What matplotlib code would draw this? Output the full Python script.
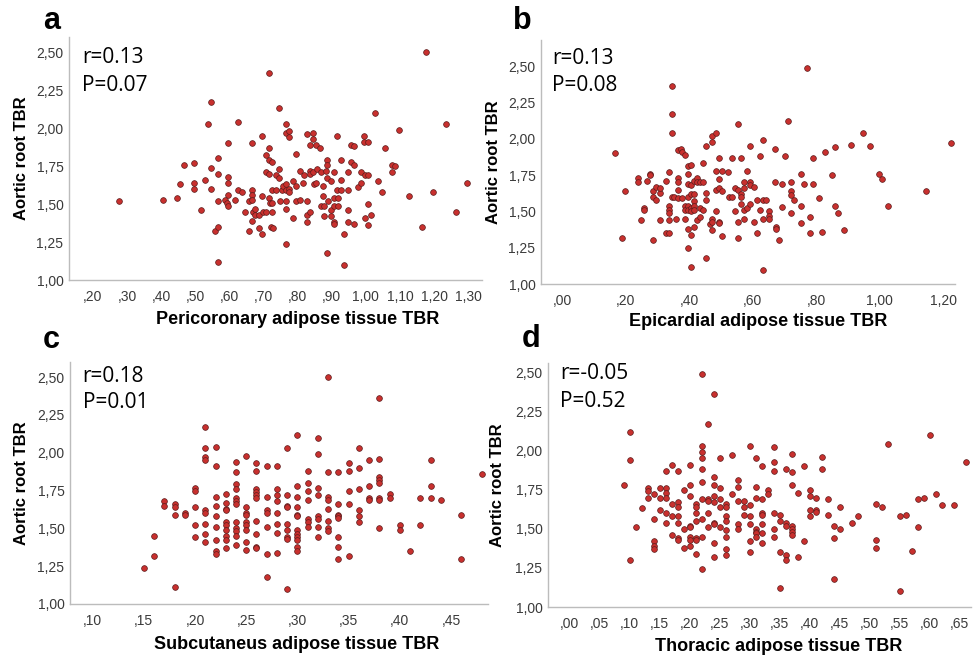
import matplotlib
matplotlib.use("Agg")
import matplotlib.pyplot as plt
import numpy as np
from matplotlib.ticker import FuncFormatter

# ---- data ----
# a: pericoronary adipose tissue TBR vs aortic root TBR
a_x = [0.276, 0.405, 0.446, 0.456, 0.466, 0.496, 0.497, 0.497, 0.516, 0.527,
       0.537, 0.545, 0.545, 0.546, 0.557, 0.567, 0.567, 0.567, 0.567, 0.567,
       0.596, 0.597, 0.597, 0.597, 0.587, 0.594, 0.597, 0.616, 0.625, 0.626,
       0.636, 0.647, 0.656, 0.657, 0.666, 0.666, 0.666, 0.666, 0.669, 0.676,
       0.676, 0.666, 0.686, 0.686, 0.696, 0.696, 0.696, 0.698, 0.706, 0.706,
       0.706, 0.716, 0.716, 0.716, 0.716, 0.716, 0.718, 0.721, 0.726, 0.726,
       0.726, 0.726, 0.728, 0.735, 0.735, 0.745, 0.745, 0.745, 0.747, 0.754,
       0.757, 0.765, 0.765, 0.765, 0.765, 0.765, 0.765, 0.766, 0.775, 0.775,
       0.775, 0.775, 0.786, 0.786, 0.796, 0.796, 0.796, 0.806, 0.806, 0.816,
       0.818, 0.826, 0.826, 0.826, 0.827, 0.836, 0.836, 0.836, 0.836, 0.845,
       0.845, 0.845, 0.848, 0.855, 0.857, 0.855, 0.865, 0.867, 0.868, 0.875,
       0.875, 0.877, 0.878, 0.884, 0.887, 0.887, 0.887, 0.887, 0.889, 0.897,
       0.898, 0.898, 0.906, 0.907, 0.907, 0.907, 0.907, 0.915, 0.915, 0.917,
       0.917, 0.926, 0.926, 0.926, 0.936, 0.936, 0.946, 0.946, 0.946, 0.946,
       0.956, 0.956, 0.966, 0.966, 0.966, 0.976, 0.986, 0.987, 0.995, 0.995,
       0.997, 0.997, 1.006, 1.006, 1.006, 1.006, 1.016, 1.027, 1.036, 1.047,
       1.057, 1.076, 1.076, 1.086, 1.096, 1.126, 1.165, 1.176, 1.196, 1.236,
       1.265, 1.297]
a_y = [1.52, 1.53, 1.54, 1.63, 1.76, 1.77, 1.64, 1.60, 1.46, 1.66,
       2.03, 2.17, 1.74, 1.60, 1.32, 1.35, 1.12, 1.80, 1.70, 1.52,
       1.90, 1.64, 1.68, 1.56, 1.53, 1.51, 1.49, 1.53, 2.04, 1.59,
       1.58, 1.45, 1.32, 1.52, 1.90, 1.59, 1.56, 1.39, 1.45, 1.47,
       1.43, 1.53, 1.34, 1.43, 1.95, 1.30, 1.55, 1.45, 1.82, 1.71,
       1.45, 2.36, 1.87, 1.79, 1.70, 1.54, 1.51, 1.35, 1.78, 1.59,
       1.51, 1.45, 1.34, 1.69, 1.59, 2.13, 1.73, 1.67, 1.52, 1.59,
       1.62, 2.03, 1.97, 1.63, 1.59, 1.52, 1.47, 1.24, 1.98, 1.94,
       1.60, 1.58, 1.65, 1.41, 1.83, 1.62, 1.52, 1.72, 1.53, 1.64,
       1.69, 1.96, 1.43, 1.38, 1.52, 1.89, 1.72, 1.70, 1.45, 1.97,
       1.93, 1.71, 1.63, 1.89, 1.73, 1.64, 1.87, 1.71, 1.49, 1.62,
       1.55, 1.49, 1.42, 1.72, 1.79, 1.76, 1.67, 1.18, 1.52, 1.65,
       1.46, 1.42, 1.71, 1.54, 1.49, 1.38, 1.37, 1.95, 1.59, 1.54,
       1.49, 1.79, 1.66, 1.59, 1.30, 1.10, 1.71, 1.59, 1.46, 1.38,
       1.78, 1.89, 1.88, 1.76, 1.37, 1.61, 1.71, 1.64, 1.95, 1.91,
       1.69, 1.41, 1.91, 1.69, 1.50, 1.36, 1.43, 2.10, 1.65, 1.58,
       1.87, 1.76, 1.71, 1.75, 1.99, 1.55, 1.35, 2.50, 1.58, 2.03,
       1.45, 1.64]

# b: epicardial adipose tissue TBR vs aortic root TBR
b_x = [0.167, 0.188, 0.197, 0.237, 0.237, 0.248, 0.257, 0.257, 0.267, 0.277,
       0.277, 0.286, 0.286, 0.286, 0.296, 0.296, 0.307, 0.307, 0.307, 0.326,
       0.326, 0.336, 0.336, 0.336, 0.336, 0.336, 0.336, 0.344, 0.344, 0.344,
       0.344, 0.352, 0.359, 0.365, 0.365, 0.365, 0.365, 0.365, 0.374, 0.376,
       0.376, 0.386, 0.386, 0.386, 0.386, 0.395, 0.395, 0.395, 0.395, 0.395,
       0.395, 0.395, 0.395, 0.405, 0.405, 0.405, 0.405, 0.405, 0.405, 0.405,
       0.415, 0.415, 0.415, 0.415, 0.415, 0.415, 0.425, 0.425, 0.425, 0.435,
       0.435, 0.435, 0.444, 0.444, 0.444, 0.454, 0.454, 0.454, 0.454, 0.466,
       0.473, 0.473, 0.473, 0.473, 0.473, 0.484, 0.484, 0.484, 0.484, 0.493,
       0.493, 0.493, 0.493, 0.493, 0.504, 0.504, 0.504, 0.523, 0.525, 0.533,
       0.533, 0.544, 0.544, 0.552, 0.552, 0.552, 0.552, 0.563, 0.563, 0.563,
       0.563, 0.573, 0.573, 0.573, 0.573, 0.583, 0.583, 0.592, 0.592, 0.592,
       0.592, 0.603, 0.603, 0.613, 0.613, 0.622, 0.622, 0.632, 0.632, 0.632,
       0.632, 0.642, 0.652, 0.652, 0.652, 0.671, 0.671, 0.672, 0.672, 0.681,
       0.691, 0.691, 0.701, 0.712, 0.720, 0.720, 0.720, 0.720, 0.730, 0.751,
       0.751, 0.751, 0.760, 0.770, 0.780, 0.780, 0.790, 0.790, 0.809, 0.819,
       0.828, 0.848, 0.859, 0.859, 0.868, 0.888, 0.908, 0.948, 0.968, 0.997,
       1.008, 1.027, 1.146, 1.223]
b_y = [1.90, 1.32, 1.64, 1.73, 1.70, 1.44, 1.52, 1.51, 1.71, 1.76,
       1.75, 1.64, 1.60, 1.30, 1.67, 1.58, 1.63, 1.66, 1.44, 1.71,
       1.35, 1.77, 1.54, 1.51, 1.35, 1.49, 1.44, 2.36, 2.17, 2.04,
       1.60, 1.60, 1.45, 1.92, 1.73, 1.70, 1.65, 1.59, 1.93, 1.91,
       1.59, 1.89, 1.54, 1.51, 1.45, 1.81, 1.76, 1.69, 1.60, 1.54,
       1.51, 1.38, 1.25, 1.82, 1.68, 1.62, 1.52, 1.50, 1.34, 1.12,
       1.71, 1.62, 1.57, 1.54, 1.51, 1.39, 1.73, 1.70, 1.44, 1.70,
       1.52, 1.46, 1.83, 1.70, 1.51, 1.95, 1.63, 1.58, 1.18, 1.41,
       1.98, 2.02, 1.45, 1.43, 1.37, 2.04, 1.78, 1.65, 1.50, 1.87,
       1.72, 1.66, 1.43, 1.42, 1.78, 1.64, 1.33, 1.77, 1.60, 1.60,
       1.87, 1.50, 1.66, 2.10, 1.65, 1.43, 1.32, 1.87, 1.62, 1.60,
       1.55, 1.70, 1.66, 1.51, 1.45, 1.78, 1.52, 1.95, 1.70, 1.68,
       1.55, 1.67, 1.43, 1.58, 1.35, 1.88, 1.51, 1.99, 1.58, 1.45,
       1.10, 1.58, 1.50, 1.47, 1.45, 1.93, 1.70, 1.39, 1.38, 1.30,
       1.69, 1.53, 1.88, 2.12, 1.70, 1.64, 1.61, 1.49, 1.58, 1.76,
       1.54, 1.42, 1.69, 2.49, 1.46, 1.35, 1.87, 1.69, 1.59, 1.36,
       1.91, 1.75, 1.94, 1.54, 1.49, 1.37, 1.96, 2.04, 1.95, 1.76,
       1.72, 1.54, 1.64, 1.97]

# c: subcutaneous adipose tissue TBR (values come in 0.01 columns)
c_cols = [0.15, 0.16, 0.17, 0.18, 0.19, 0.20, 0.21, 0.22, 0.23, 0.24, 0.25,
          0.26, 0.27, 0.28, 0.29, 0.30, 0.31, 0.32, 0.33, 0.34, 0.35, 0.36,
          0.37, 0.38, 0.39, 0.40, 0.41, 0.42, 0.43, 0.44, 0.46, 0.48]
c_vals = [[1.24], [1.45, 1.32], [1.68, 1.65], [1.66, 1.64, 1.59, 1.11],
          [1.60, 1.59], [1.77, 1.75, 1.64, 1.52, 1.44],
          [2.17, 2.03, 1.97, 1.95, 1.62, 1.60, 1.53, 1.46, 1.41],
          [2.04, 1.91, 1.71, 1.65, 1.58, 1.51, 1.42, 1.35, 1.33],
          [1.73, 1.67, 1.63, 1.62, 1.54, 1.52, 1.49, 1.45, 1.42, 1.37],
          [1.94, 1.87, 1.79, 1.76, 1.70, 1.68, 1.66, 1.54, 1.50, 1.48, 1.45, 1.39],
          [1.98, 1.64, 1.60, 1.59, 1.54, 1.52, 1.49, 1.41, 1.36],
          [1.93, 1.88, 1.76, 1.74, 1.72, 1.70, 1.55, 1.46, 1.38, 1.37],
          [1.91, 1.71, 1.62, 1.60, 1.51, 1.33, 1.18],
          [1.91, 1.76, 1.72, 1.68, 1.60, 1.53, 1.47, 1.34],
          [2.03, 1.72, 1.65, 1.64, 1.53, 1.49, 1.44, 1.43, 1.10],
          [2.12, 1.78, 1.71, 1.64, 1.59, 1.58, 1.49, 1.46, 1.44, 1.42, 1.38, 1.35],
          [1.88, 1.80, 1.75, 1.69, 1.56, 1.54, 1.51],
          [2.10, 1.99, 1.77, 1.72, 1.58, 1.56, 1.51, 1.44],
          [2.50, 1.87, 1.71, 1.69, 1.63, 1.55, 1.50, 1.48],
          [1.87, 1.66, 1.59, 1.58, 1.57, 1.44, 1.38, 1.30],
          [1.93, 1.88, 1.75, 1.66, 1.32],
          [2.03, 1.90, 1.76, 1.62, 1.58, 1.54],
          [1.95, 1.78, 1.70, 1.69],
          [2.36, 1.96, 1.84, 1.82, 1.80, 1.70, 1.69, 1.50],
          [1.73, 1.70], [1.52, 1.49], [1.35], [1.70, 1.52],
          [1.95, 1.78, 1.70], [1.69], [1.59, 1.30], [1.86]]

# d: thoracic adipose tissue TBR (values come in 0.01 columns)
d_cols = [0.09, 0.10, 0.11, 0.12, 0.13, 0.14, 0.15, 0.16, 0.17, 0.18, 0.19,
          0.20, 0.21, 0.22, 0.23, 0.24, 0.25, 0.26, 0.27, 0.28, 0.29, 0.30,
          0.31, 0.32, 0.33, 0.34, 0.35, 0.36, 0.37, 0.38, 0.39, 0.40, 0.41,
          0.42, 0.43, 0.44, 0.45, 0.47, 0.48, 0.51, 0.52, 0.53, 0.55, 0.56,
          0.57, 0.58, 0.59, 0.60, 0.61, 0.62, 0.64, 0.66]
d_vals = [[1.78], [2.12, 1.94, 1.30], [1.51], [1.63], [1.76, 1.74, 1.70],
          [1.72, 1.56, 1.42, 1.39, 1.37], [1.76, 1.70, 1.62],
          [1.87, 1.76, 1.73, 1.70, 1.60, 1.54], [1.91, 1.66, 1.58, 1.46],
          [1.87, 1.67, 1.64, 1.58, 1.54, 1.44, 1.43], [1.75, 1.50, 1.38],
          [1.91, 1.78, 1.71, 1.52, 1.51, 1.45, 1.43, 1.39],
          [1.66, 1.64, 1.60, 1.55, 1.44, 1.43, 1.34],
          [2.49, 2.03, 1.99, 1.95, 1.88, 1.80, 1.69, 1.56, 1.45, 1.24],
          [2.17, 1.69, 1.68, 1.60, 1.51],
          [2.36, 1.83, 1.78, 1.71, 1.67, 1.54, 1.53, 1.41, 1.32],
          [1.95, 1.76, 1.69, 1.64, 1.51],
          [1.66, 1.64, 1.58, 1.55, 1.49, 1.45, 1.37, 1.33],
          [1.97, 1.72], [1.81, 1.77, 1.68, 1.53, 1.50], [1.68, 1.64, 1.59],
          [2.03, 1.65, 1.58, 1.53, 1.42, 1.35],
          [1.95, 1.77, 1.70, 1.50, 1.48, 1.47, 1.45],
          [1.90, 1.69, 1.60, 1.59, 1.53, 1.47, 1.41], [1.75, 1.72],
          [2.02, 1.93, 1.87, 1.60, 1.50, 1.45], [1.59, 1.55, 1.35, 1.12],
          [1.88, 1.54, 1.52, 1.33, 1.30],
          [1.98, 1.86, 1.78, 1.52, 1.50, 1.48, 1.46], [1.73, 1.32],
          [1.90, 1.42], [1.75, 1.71, 1.62, 1.58], [1.70, 1.62, 1.61],
          [1.96, 1.88], [1.69, 1.59], [1.52, 1.44, 1.18], [1.64, 1.50],
          [1.54], [1.58], [1.66, 1.43, 1.38], [1.64], [2.04], [1.58, 1.10],
          [1.59], [1.36], [1.69, 1.51], [1.70], [2.10], [1.72], [1.65],
          [1.65], [1.93]]


def expand(cols, vals):
    xs = np.repeat(cols, [len(v) for v in vals])
    ys = np.concatenate([np.asarray(v, float) for v in vals])
    return xs, ys


c_x, c_y = expand(c_cols, c_vals)
d_x, d_y = expand(d_cols, d_vals)

Y_TICKS = [1.00, 1.25, 1.50, 1.75, 2.00, 2.25, 2.50]
panels = [
    dict(letter="a", x=a_x, y=a_y, xlabel="Pericoronary adipose tissue TBR",
         r="r=0.13", p="P=0.07", xticks=np.arange(0.2, 1.31, 0.1),
         xlim=(0.13, 1.34), ylim=(1.0, 2.6),
         pos=[0.0706, 0.5751, 0.4222, 0.3688], letter_xy=(0.044, 0.956),
         ylab=(-0.097, 0.5), xlab=(0.554, -0.128), txt=(0.031, 0.894, 0.779)),
    dict(letter="b", x=b_x, y=b_y, xlabel="Epicardial adipose tissue TBR",
         r="r=0.13", p="P=0.08", xticks=np.arange(0.0, 1.21, 0.2),
         xlim=(-0.067, 1.237), ylim=(1.0, 2.68),
         pos=[0.5532, 0.5690, 0.4233, 0.3703], letter_xy=(0.5245, 0.956),
         ylab=(-0.096, 0.5), xlab=(0.524, -0.119), txt=(0.027, 0.902, 0.792)),
    dict(letter="c", x=c_x, y=c_y, xlabel="Subcutaneus adipose tissue TBR",
         r="r=0.18", p="P=0.01", xticks=np.arange(0.10, 0.451, 0.05),
         xlim=(0.078, 0.486), ylim=(1.0, 2.6),
         pos=[0.0716, 0.0835, 0.4274, 0.3672], letter_xy=(0.044, 0.472),
         ylab=(-0.099, 0.5), xlab=(0.543, -0.132), txt=(0.030, 0.918, 0.809)),
    dict(letter="d", x=d_x, y=d_y, xlabel="Thoracic adipose tissue TBR",
         r="r=-0.05", p="P=0.52", xticks=np.arange(0.0, 0.651, 0.05),
         xlim=(-0.036, 0.669), ylim=(1.0, 2.56),
         pos=[0.5603, 0.0789, 0.4325, 0.3703], letter_xy=(0.533, 0.4735),
         ylab=(-0.101, 0.5), xlab=(0.546, -0.127), txt=(0.028, 0.933, 0.821)),
]


def spss_fmt(v, pos=None):
    s = f"{v:.2f}".replace(".", ",")
    if s.startswith("0,"):
        s = s[1:]
    if s == "-,00":
        s = ",00"
    return s


plt.rcParams["font.family"] = ["Liberation Sans", "DejaVu Sans"]
fig = plt.figure(figsize=(9.78, 6.59), dpi=100)

for pnl in panels:
    ax = fig.add_axes(pnl["pos"])
    ax.scatter(pnl["x"], pnl["y"], s=17, facecolor="#c8302e",
               edgecolor="#5b1c1c", linewidth=0.5, zorder=3, clip_on=False)
    ax.set_xlim(*pnl["xlim"])
    ax.set_ylim(*pnl["ylim"])
    ax.set_xticks(pnl["xticks"])
    ax.set_yticks(Y_TICKS)
    ax.xaxis.set_major_formatter(FuncFormatter(spss_fmt))
    ax.yaxis.set_major_formatter(FuncFormatter(spss_fmt))
    ax.tick_params(length=0, labelsize=10, colors="#3a3a3a")
    ax.tick_params(axis="x", pad=7)
    ax.tick_params(axis="y", pad=4)
    for side in ("top", "right"):
        ax.spines[side].set_visible(False)
    for side in ("left", "bottom"):
        ax.spines[side].set_color("#bcbcbc")
        ax.spines[side].set_linewidth(1.0)
    ax.set_ylabel("Aortic root TBR", fontsize=12, fontweight="bold")
    ax.set_xlabel(pnl["xlabel"], fontsize=13, fontweight="bold")
    ax.yaxis.set_label_coords(*pnl["ylab"])
    ax.xaxis.set_label_coords(*pnl["xlab"])
    tx, ty_r, ty_p = pnl["txt"]
    ax.text(tx, ty_r, pnl["r"], transform=ax.transAxes, fontsize=15,
            family="Open Sans", va="baseline", ha="left")
    ax.text(tx, ty_p, pnl["p"], transform=ax.transAxes, fontsize=15,
            family="Open Sans", va="baseline", ha="left")
    fig.text(*pnl["letter_xy"], pnl["letter"], fontsize=22, fontweight="bold",
             va="baseline", ha="left")

fig.savefig("out.png", dpi=100)
